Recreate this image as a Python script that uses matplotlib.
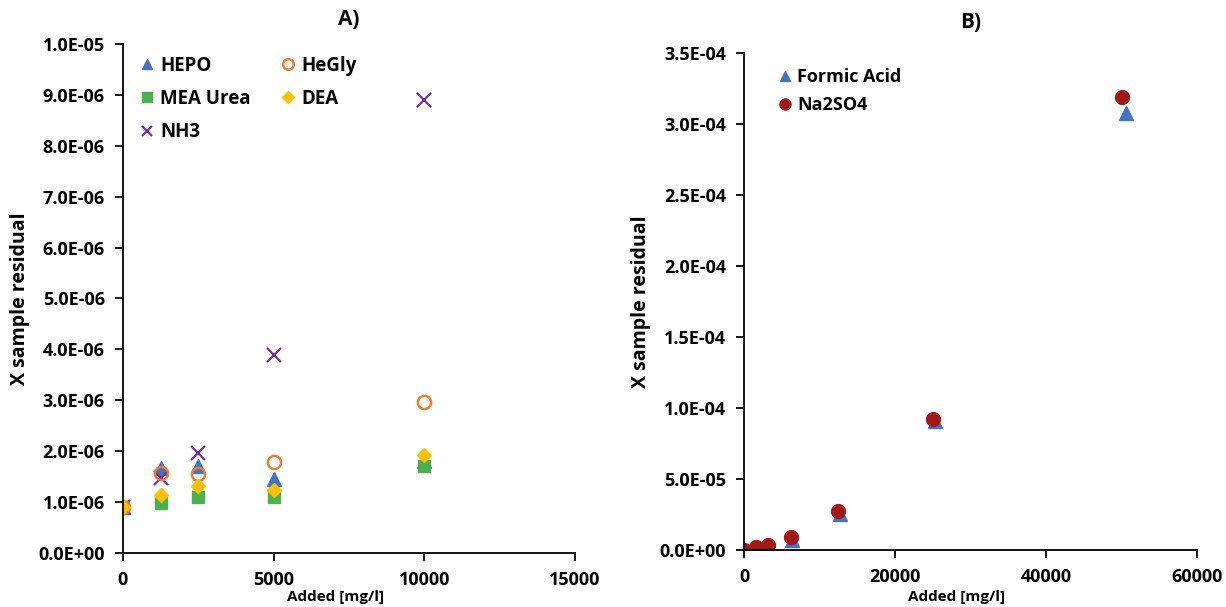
import matplotlib
matplotlib.use("Agg")
import matplotlib.pyplot as plt
from matplotlib.ticker import FuncFormatter

plt.rcParams['font.family'] = ['Open Sans', 'DejaVu Sans']
plt.rcParams['font.weight'] = 'bold'

# panel A: residuals for the amine degradation products
added_a = [0, 1250, 2500, 5000, 10000]
hepo = [0.9e-6, 1.67e-6, 1.70e-6, 1.45e-6, 1.80e-6]
hegly = [0.9e-6, 1.57e-6, 1.55e-6, 1.79e-6, 2.97e-6]
mea_urea = [0.9e-6, 0.99e-6, 1.09e-6, 1.09e-6, 1.71e-6]
dea = [0.9e-6, 1.14e-6, 1.32e-6, 1.24e-6, 1.93e-6]
nh3 = [0.9e-6, 1.47e-6, 1.96e-6, 3.89e-6, 8.9e-6]

# panel B: residuals for formic acid and sodium sulphate
added_formic = [0, 1581, 3163, 6325, 12650, 25300, 50600]
formic = [0.0, 1.0e-6, 2.5e-6, 7.0e-6, 2.55e-5, 9.1e-5, 3.08e-4]
added_na2so4 = [0, 1563, 3125, 6250, 12500, 25000, 50000]
na2so4 = [0.0, 1.9e-6, 3.7e-6, 8.9e-6, 2.72e-5, 9.26e-5, 3.19e-4]

fig = plt.figure(figsize=(12.26, 6.07), dpi=100)
ax1 = fig.add_axes([0.1003, 0.0890, 0.3687, 0.8385])
ax2 = fig.add_axes([0.6069, 0.0939, 0.3695, 0.8188])

sci = FuncFormatter(lambda v, p: "%.1E" % v)

ms = 9.5
ax1.plot(added_a, hepo, '^', color='#4472C4', ms=ms, label='HEPO')
ax1.plot(added_a, mea_urea, 's', color='#4CAF50', ms=ms - 1, label='MEA Urea')
ax1.plot(added_a, nh3, 'x', color='#7030A0', ms=ms, mew=1.6, label='NH3')
ax1.plot(added_a, hegly, 'o', mfc='none', mec='#ED7D31', mew=1.8, ms=ms, label='HeGly')
ax1.plot(added_a, dea, 'D', color='#FFC000', ms=ms - 2, label='DEA')

ax1.set_xlim(0, 15000)
ax1.set_ylim(0, 1.0e-5)
ax1.set_xticks([0, 5000, 10000, 15000])
ax1.set_yticks([i * 1e-6 for i in range(11)])
ax1.yaxis.set_major_formatter(sci)
ax1.set_title('A)', fontsize=15, fontweight='bold', pad=14)
ax1.set_ylabel('X sample residual', fontsize=14, fontweight='bold')
ax1.yaxis.set_label_coords(-0.205, 0.5)
ax1.set_xlabel('Added [mg/l]', fontsize=11, fontweight='bold', va='center')
ax1.xaxis.set_label_coords(0.47, -0.086)
ax1.legend(ncol=2, loc='upper left', bbox_to_anchor=(0.007, 0.995), frameon=False,
           fontsize=13.5, markerscale=0.8, handletextpad=0.1, handlelength=1.2,
           labelspacing=0.7, columnspacing=1.4, borderaxespad=0.1)

ax2.plot(added_formic, formic, '^', color='#4472C4', ms=ms, label='Formic Acid')
ax2.plot(added_na2so4, na2so4, 'o', color='#A11A1A', ms=ms + 0.5, label='Na2SO4')
ax2.set_xlim(0, 60000)
ax2.set_ylim(0, 3.5e-4)
ax2.set_xticks([0, 20000, 40000, 60000])
ax2.set_yticks([i * 5e-5 for i in range(8)])
ax2.yaxis.set_major_formatter(sci)
ax2.set_title('B)', fontsize=15, fontweight='bold', pad=18)
ax2.set_ylabel('X sample residual', fontsize=14, fontweight='bold')
ax2.yaxis.set_label_coords(-0.205, 0.5)
ax2.set_xlabel('Added [mg/l]', fontsize=11, fontweight='bold', va='center')
ax2.xaxis.set_label_coords(0.47, -0.095)
ax2.legend(loc='upper left', bbox_to_anchor=(0.046, 0.988), frameon=False,
           fontsize=13, markerscale=0.8, handletextpad=0.1, handlelength=1.2,
           labelspacing=0.55, borderaxespad=0.1)

for ax in (ax1, ax2):
    ax.spines['top'].set_visible(False)
    ax.spines['right'].set_visible(False)
    ax.spines['left'].set_linewidth(1.3)
    ax.spines['bottom'].set_linewidth(1.3)
    ax.tick_params(direction='out', length=6, width=1.3, labelsize=13, pad=7)
    for lbl in ax.get_xticklabels() + ax.get_yticklabels():
        lbl.set_fontweight('bold')

fig.savefig('out.png', dpi=100)
